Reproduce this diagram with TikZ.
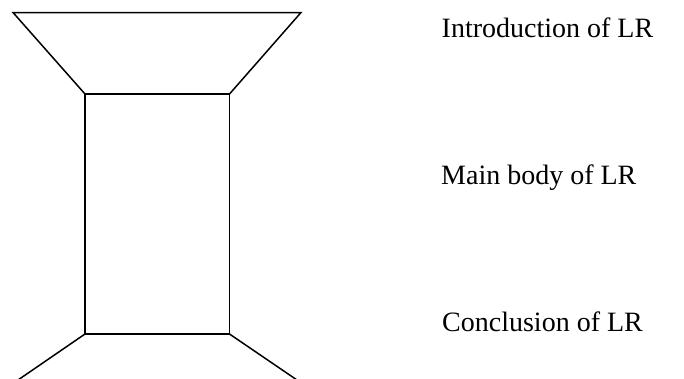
\documentclass[tikz,border=0pt]{standalone}
\usepackage{fontspec}
\setmainfont{Liberation Serif}
\tikzset{
  outline/.style={line width=1.5pt, line join=miter, black},
  caption/.style={anchor=base west, inner sep=0pt, font=\fontsize{28}{32}\selectfont}
}
\begin{document}
\begin{tikzpicture}[x=1pt, y=-1pt]
  \useasboundingbox (0,0) rectangle (684,378);
  % corner points of the funnel and the body
  \coordinate (tl) at (13,12.5);
  \coordinate (tr) at (301,12.5);
  \coordinate (rtl) at (85,94);
  \coordinate (rtr) at (229.5,94);
  \coordinate (rbl) at (85,334);
  \coordinate (rbr) at (229.5,334);
  \coordinate (bl) at (18,380);
  \coordinate (br) at (297,380);
  % top funnel
  \draw[outline] (tl) -- (tr) -- (rtr) -- (rtl) -- cycle;
  % main body
  \draw[outline] (rtl) rectangle (rbr);
  % splayed base
  \draw[outline] (rbl) -- (bl);
  \draw[outline] (rbr) -- (br);
  % labels
  \node[caption] (intro) at (441.5,37) {Introduction of LR};
  \node[caption] (main) at (441,184) {Main body of LR};
  \node[caption] (concl) at (442,331.5) {Conclusion of LR};
\end{tikzpicture}
\end{document}
